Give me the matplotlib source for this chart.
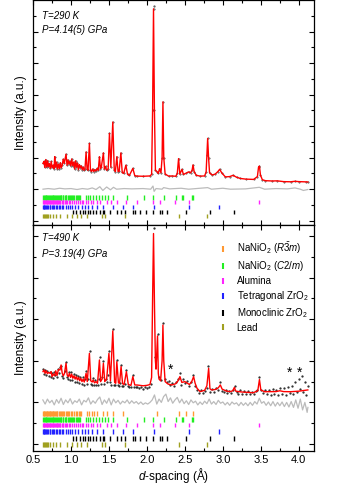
import matplotlib
matplotlib.use('Agg')
import matplotlib.pyplot as plt
from matplotlib.ticker import MultipleLocator
from matplotlib.lines import Line2D

plt.rcParams['font.family'] = ['Liberation Sans', 'DejaVu Sans']
plt.rcParams['mathtext.fontset'] = 'custom'
plt.rcParams['mathtext.rm'] = 'Liberation Sans'
plt.rcParams['mathtext.it'] = 'Liberation Sans:italic'

# ---- top panel: T=290 K ----
d_fit_top = [0.632, 0.645, 0.655, 0.668, 0.680, 0.692, 0.703, 0.715, 0.727, 0.740, 0.752, 0.765,
             0.778, 0.786, 0.797, 0.810, 0.822, 0.835, 0.848, 0.860, 0.872, 0.885, 0.898, 0.912,
             0.935, 0.948, 0.960, 0.972, 0.985, 0.997, 1.010, 1.022, 1.035, 1.048, 1.060, 1.072,
             1.085, 1.097, 1.110, 1.122, 1.135, 1.148, 1.160, 1.173, 1.185, 1.199, 1.212, 1.225,
             1.243, 1.256, 1.270, 1.285, 1.300, 1.315, 1.330, 1.345, 1.360, 1.375, 1.388, 1.400,
             1.427, 1.440, 1.455, 1.470, 1.490, 1.507, 1.525, 1.551, 1.570, 1.585, 1.604, 1.620,
             1.635, 1.657, 1.675, 1.695, 1.723, 1.745, 1.770, 1.815, 1.840, 1.872, 1.950, 2.040,
             2.062, 2.075, 2.087, 2.099, 2.112, 2.132, 2.150, 2.166, 2.185, 2.200, 2.211, 2.222,
             2.240, 2.285, 2.330, 2.380, 2.400, 2.417, 2.433, 2.462, 2.480, 2.510, 2.549, 2.575,
             2.595, 2.607, 2.622, 2.650, 2.703, 2.760, 2.780, 2.790, 2.800, 2.812, 2.825, 2.860,
             2.900, 2.935, 2.958, 2.985, 3.033, 3.090, 3.135, 3.180, 3.231, 3.300, 3.406, 3.455,
             3.470, 3.482, 3.495, 3.520, 3.561, 3.650, 3.715, 3.800, 3.891, 3.950, 4.000, 4.089,
             4.119]
I_fit_top = [1820, 1880, 1690, 1940, 1700, 1900, 1720, 1810, 1660, 1880, 1690, 1760,
             1650, 2030, 1700, 1860, 1640, 1790, 1650, 1840, 1680, 1770, 1950, 1820,
             2110, 1760, 1930, 1800, 1880, 1740, 1960, 1750, 1860, 1640, 1900, 1700,
             1830, 1620, 1780, 1680, 1740, 1620, 1700, 1600, 1650, 2180, 1640, 1600,
             2450, 1620, 1560, 1640, 1560, 1620, 1580, 1660, 1600, 2030, 1650, 1700,
             2150, 1640, 1720, 1600, 1650, 2770, 1700, 3130, 1620, 1560, 2030, 1560,
             1570, 2150, 1530, 1500, 1760, 1470, 1440, 1660, 1430, 1415, 1410, 1420,
             1470, 3500, 6720, 3500, 1600, 1560, 1500, 1650, 1520, 2000, 3770, 2000,
             1480, 1415, 1420, 1410, 1500, 1970, 1480, 1630, 1470, 1500, 1550, 1520,
             1600, 1770, 1560, 1440, 1415, 1420, 1550, 2100, 2610, 2000, 1520, 1450,
             1480, 1560, 1630, 1520, 1390, 1400, 1440, 1380, 1340, 1320, 1310, 1400,
             1700, 1730, 1450, 1300, 1270, 1260, 1265, 1240, 1235, 1250, 1240, 1235,
             1230]

d_diff_top = [0.632, 0.70, 0.78, 0.85, 0.92, 1.00, 1.08, 1.15, 1.22, 1.28, 1.33, 1.38, 1.42,
              1.47, 1.52, 1.56, 1.60, 1.70, 1.80, 1.95, 2.05, 2.08, 2.095, 2.12, 2.20, 2.22,
              2.30, 2.45, 2.55, 2.65, 2.80, 2.85, 3.00, 3.10, 3.30, 3.48, 3.55, 3.70, 3.85,
              3.95, 4.02, 4.06, 4.119]
I_diff_top = [1000, 1020, 1000, 1030, 1010, 1020, 990, 1020, 1000, 1040, 990, 1080, 960,
              1070, 980, 1060, 1000, 1020, 1010, 1020, 1000, 1100, 930, 1020, 1000, 1050,
              1010, 1030, 1000, 1020, 1050, 1000, 1030, 1000, 1010, 1060, 1000, 1020, 1010,
              1040, 1000, 960, 990]

# ---- bottom panel: T=490 K ----
d_fit_bot = [0.632, 0.645, 0.660, 0.675, 0.690, 0.705, 0.724, 0.740, 0.751, 0.770, 0.786, 0.800,
             0.817, 0.835, 0.856, 0.870, 0.885, 0.900, 0.915, 0.935, 0.950, 0.965, 0.980, 0.995,
             1.010, 1.025, 1.040, 1.055, 1.070, 1.085, 1.100, 1.115, 1.130, 1.145, 1.160, 1.175,
             1.199, 1.215, 1.243, 1.260, 1.280, 1.292, 1.310, 1.330, 1.350, 1.375, 1.390, 1.410,
             1.427, 1.445, 1.470, 1.500, 1.520, 1.551, 1.575, 1.590, 1.604, 1.625, 1.640, 1.660,
             1.680, 1.700, 1.730, 1.755, 1.790, 1.815, 1.840, 1.872, 1.950, 2.000, 2.040, 2.062,
             2.075, 2.087, 2.100, 2.112, 2.120, 2.140, 2.150, 2.160, 2.180, 2.200, 2.211, 2.222,
             2.240, 2.280, 2.330, 2.380, 2.410, 2.435, 2.460, 2.500, 2.560, 2.590, 2.615, 2.635,
             2.660, 2.700, 2.760, 2.790, 2.813, 2.830, 2.850, 2.900, 2.940, 2.967, 2.990, 3.050,
             3.100, 3.130, 3.152, 3.170, 3.250, 3.400, 3.460, 3.482, 3.500, 3.550, 3.700, 3.750,
             3.800, 3.891, 4.000, 4.119]
I_fit_bot = [1740, 1780, 1700, 1760, 1690, 1720, 1700, 1740, 1620, 1680, 1640, 1760,
             1650, 1790, 1780, 1900, 1700, 1640, 1700, 1940, 1660, 1620, 1700, 1600,
             1680, 1580, 1640, 1560, 1620, 1540, 1600, 1520, 1580, 1500, 1560, 1490,
             1700, 1500, 2180, 1520, 1490, 1540, 1470, 1500, 1460, 2020, 1500, 1560,
             1940, 1500, 1560, 2180, 1520, 2720, 1480, 1460, 1980, 1470, 1460, 1860,
             1450, 1430, 1740, 1430, 1410, 1620, 1420, 1418, 1400, 1410, 1430, 1600,
             3500, 5060, 3300, 2000, 1800, 2600, 1700, 1560, 1520, 2000, 2860, 2000,
             1500, 1440, 1420, 1450, 1520, 1620, 1480, 1500, 1430, 1500, 1620, 1460,
             1340, 1260, 1290, 1400, 1820, 1330, 1300, 1310, 1350, 1420, 1320, 1270,
             1260, 1280, 1360, 1270, 1250, 1233, 1280, 1550, 1300, 1257, 1260, 1280,
             1260, 1257, 1270, 1300]

d_obs_bot = [0.63, 0.645, 0.66, 0.675, 0.69, 0.705, 0.72, 0.735, 0.75, 0.765, 0.78, 0.795, 0.81,
             0.825, 0.84, 0.855, 0.87, 0.885, 0.90, 0.915, 0.93, 0.945, 0.96, 0.975, 0.99, 1.005,
             1.02, 1.035, 1.05, 1.065, 1.08, 1.095, 1.11, 1.125, 1.14, 1.155, 1.17, 1.185, 1.20,
             1.215, 1.23, 1.245, 1.26, 1.275, 1.29, 1.305, 1.32, 1.335, 1.35, 1.365, 1.38, 1.395,
             1.41, 1.425, 1.44, 1.455, 1.47, 1.485, 1.50, 1.515, 1.53, 1.55, 1.565, 1.58, 1.60,
             1.615, 1.63, 1.645, 1.66, 1.675, 1.69, 1.71, 1.73, 1.75, 1.77, 1.79, 1.815, 1.83,
             1.85, 1.875, 1.90, 1.925, 1.95, 1.975, 2.00, 2.025, 2.05, 2.087, 2.11, 2.14, 2.16,
             2.185, 2.21, 2.235, 2.26, 2.285, 2.31, 2.335, 2.36, 2.385, 2.41, 2.435, 2.455, 2.48,
             2.505, 2.53, 2.555, 2.58, 2.61, 2.635, 2.66, 2.685, 2.71, 2.735, 2.76, 2.785, 2.81,
             2.835, 2.86, 2.885, 2.91, 2.935, 2.96, 2.985, 3.01, 3.035, 3.06, 3.085, 3.11, 3.135,
             3.155, 3.18, 3.205, 3.23, 3.255, 3.28, 3.305, 3.33, 3.355, 3.38, 3.405, 3.43, 3.455,
             3.48, 3.505, 3.53, 3.555, 3.58, 3.605, 3.63, 3.655, 3.68, 3.705, 3.73, 3.755, 3.78,
             3.805, 3.83, 3.855, 3.88, 3.905, 3.93, 3.955, 3.98, 4.005, 4.02, 4.04, 4.06, 4.08,
             4.10, 4.115]
I_obs_bot = [1800, 1690, 1780, 1650, 1760, 1640, 1740, 1600, 1700, 1580, 1720, 1660, 1600,
             1800, 1700, 1850, 1880, 1630, 1580, 1760, 1980, 1600, 1560, 1740, 1550, 1720,
             1530, 1680, 1500, 1660, 1480, 1640, 1460, 1620, 1450, 1600, 1430, 1560, 1760,
             1450, 1560, 2230, 1450, 1430, 1580, 1420, 1530, 1430, 1420, 1560, 2080, 1440,
             1600, 1990, 1440, 1560, 1500, 1650, 2230, 1480, 1430, 2760, 1430, 1410, 2010,
             1420, 1400, 1460, 1900, 1400, 1390, 1450, 1780, 1390, 1370, 1380, 1660, 1380,
             1360, 1380, 1340, 1370, 1330, 1360, 1350, 1380, 1440, 5190, 2100, 2640, 1620,
             1540, 2900, 1560, 1480, 1520, 1420, 1470, 1400, 1480, 1560, 1700, 1430, 1560,
             1460, 1520, 1390, 1480, 1660, 1400, 1300, 1230, 1290, 1220, 1280, 1340, 1880,
             1260, 1320, 1240, 1350, 1300, 1480, 1280, 1240, 1300, 1220, 1280, 1230, 1290,
             1400, 1240, 1200, 1290, 1210, 1270, 1200, 1280, 1210, 1260, 1200, 1280, 1300,
             1620, 1300, 1220, 1290, 1200, 1300, 1190, 1320, 1210, 1300, 1180, 1340, 1200,
             1350, 1180, 1360, 1220, 1400, 1200, 1480, 1260, 1560, 1320, 1640, 1250, 1480,
             1180, 1400]

d_diff_bot = [0.63, 0.66, 0.69, 0.72, 0.75, 0.78, 0.81, 0.84, 0.87, 0.90, 0.93, 0.96, 0.99,
              1.02, 1.05, 1.08, 1.11, 1.14, 1.17, 1.20, 1.23, 1.26, 1.29, 1.32, 1.35, 1.38,
              1.41, 1.44, 1.47, 1.50, 1.53, 1.56, 1.59, 1.62, 1.65, 1.68, 1.71, 1.74, 1.77,
              1.80, 1.83, 1.86, 1.89, 1.92, 1.95, 1.98, 2.01, 2.04, 2.07, 2.10, 2.13, 2.16,
              2.19, 2.22, 2.25, 2.28, 2.31, 2.34, 2.37, 2.40, 2.43, 2.46, 2.49, 2.52, 2.55,
              2.58, 2.61, 2.64, 2.67, 2.70, 2.73, 2.76, 2.79, 2.82, 2.85, 2.88, 2.91, 2.94,
              2.97, 3.00, 3.03, 3.06, 3.09, 3.12, 3.15, 3.18, 3.21, 3.24, 3.27, 3.30, 3.33,
              3.36, 3.39, 3.42, 3.45, 3.48, 3.51, 3.54, 3.57, 3.60, 3.63, 3.66, 3.69, 3.72,
              3.75, 3.78, 3.81, 3.84, 3.87, 3.90, 3.93, 3.96, 3.99, 4.02, 4.05, 4.08, 4.11,
              4.12]
I_diff_bot = [1060, 960, 1080, 990, 1050, 940, 1070, 980, 1100, 950, 1060, 990, 1090,
              960, 1040, 1000, 1080, 940, 1050, 1010, 1110, 960, 1040, 980, 1070, 1130,
              950, 1060, 980, 1100, 940, 1080, 990, 1050, 960, 1030, 990, 1060, 970,
              1040, 980, 1020, 960, 1010, 950, 990, 960, 1000, 1060, 1180, 960, 1080,
              1000, 1140, 1200, 1020, 1110, 980, 1060, 1120, 990, 1080, 970, 1040, 950,
              1060, 990, 1030, 940, 1010, 950, 1030, 970, 1080, 960, 1020, 950, 1050,
              980, 1010, 940, 1000, 930, 1010, 960, 990, 920, 1000, 930, 990, 920,
              1000, 930, 1020, 960, 1100, 980, 1020, 930, 1010, 920, 1020, 910, 1000,
              920, 1010, 900, 1000, 890, 1020, 880, 1060, 860, 1080, 820, 1000, 760,
              880]

# ---- reflection positions (d-spacing) ----
refl_r3m = [0.63, 0.64, 0.65, 0.66, 0.67, 0.68, 0.69, 0.70, 0.71, 0.72, 0.73, 0.74, 0.75, 0.76,
            0.77, 0.78, 0.79, 0.80, 0.81, 0.82, 0.84, 0.85, 0.87, 0.88, 0.90, 0.91, 0.93, 0.95,
            0.96, 0.98, 1.00, 1.02, 1.04, 1.06, 1.08, 1.10, 1.12, 1.13, 1.216, 1.243, 1.274,
            1.309, 1.340, 1.420, 1.480, 1.559, 1.683, 2.132, 2.417, 2.515, 2.602]
refl_c2m = [0.63, 0.645, 0.655, 0.668, 0.676, 0.69, 0.70, 0.712, 0.725, 0.733, 0.745, 0.758,
            0.77, 0.78, 0.79, 0.805, 0.815, 0.83, 0.84, 0.852, 0.866, 0.875, 0.89, 0.90, 0.915,
            0.93, 0.94, 0.955, 0.97, 0.985, 1.0, 1.012, 1.03, 1.045, 1.06, 1.075, 1.09, 1.10,
            1.12, 1.199, 1.222, 1.252, 1.288, 1.327, 1.375, 1.406, 1.450, 1.493, 1.551, 1.736,
            1.964, 2.079, 2.219, 2.387, 2.466, 2.479, 2.598, 2.611]
refl_alumina = [0.63, 0.64, 0.65, 0.66, 0.67, 0.68, 0.69, 0.70, 0.71, 0.72, 0.73, 0.74, 0.75,
                0.76, 0.77, 0.78, 0.79, 0.80, 0.81, 0.82, 0.83, 0.84, 0.85, 0.86, 0.88, 0.89,
                0.90, 0.92, 0.93, 0.95, 0.97, 0.99, 1.01, 1.04, 1.06, 1.09, 1.12, 1.14, 1.164,
                1.199, 1.230, 1.261, 1.288, 1.340, 1.384, 1.480, 1.525, 1.612, 1.727, 1.868,
                2.079, 2.166, 2.373, 2.549, 3.472]
refl_tetra = [0.63, 0.64, 0.65, 0.66, 0.67, 0.69, 0.70, 0.72, 0.73, 0.75, 0.77, 0.78, 0.80,
              0.82, 0.84, 0.86, 0.88, 0.90, 0.93, 0.96, 0.99, 1.01, 1.05, 1.098, 1.142, 1.186,
              1.230, 1.274, 1.340, 1.427, 1.559, 1.691, 1.823, 2.096, 2.558, 2.954]
refl_mono = [1.024, 1.067, 1.120, 1.160, 1.186, 1.230, 1.252, 1.288, 1.331, 1.380, 1.420,
             1.441, 1.516, 1.604, 1.657, 1.714, 1.815, 1.846, 1.910, 1.991, 2.084, 2.176,
             2.198, 2.264, 2.515, 2.835, 3.150]
refl_lead = [0.636, 0.647, 0.658, 0.670, 0.681, 0.702, 0.724, 0.768, 0.803, 0.856, 0.945,
             1.011, 1.084, 1.129, 1.216, 1.406, 1.450, 1.714, 2.417, 2.792]

phase_labels = ['NaNiO$_2$ ($R\\bar{3}m$)', 'NaNiO$_2$ ($C2/m$)', 'Alumina',
                'Tetragonal ZrO$_2$', 'Monoclinic ZrO$_2$', 'Lead']
phase_colors = ['#ff9933', '#22ee22', '#ff22ff', '#2222ff', '#000000', '#a0a020']

fig = plt.figure(figsize=(3.39, 4.84), dpi=100)
ax1 = fig.add_axes([0.0973, 0.5351, 0.8289, 0.4639])
ax2 = fig.add_axes([0.0973, 0.0682, 0.8289, 0.4669])

# top
ax1.plot(d_fit_top, I_fit_top, '.', color='#333333', ms=0.8)
ax1.plot(d_fit_top, I_fit_top, color='red', lw=1.0)
ax1.plot(d_diff_top, I_diff_top, color='#bbbbbb', lw=0.9)
ax1.plot([2.087], [6820], '.', color='#555555', ms=1.2)
top_rows = [(670, 813), (520, 655), (370, 505), (225, 355), (75, 210)]
top_refl = [refl_c2m, refl_alumina, refl_tetra, refl_mono, refl_lead]
for (y0, y1), refl, col in zip(top_rows, top_refl, phase_colors[1:]):
    ax1.vlines(refl, y0, y1, color=col, lw=1.0)
ax1.set_ylim(-136, 6985)
ax1.text(0.031, 0.933, 'T=290 K', transform=ax1.transAxes, fontsize=7, style='italic', va='center')
ax1.text(0.031, 0.870, 'P=4.14(5) GPa', transform=ax1.transAxes, fontsize=7, style='italic', va='center')

# bottom
ax2.plot(d_obs_bot, I_obs_bot, '.', color='#222222', ms=1.2)
ax2.plot(d_fit_bot, I_fit_bot, color='red', lw=1.0)
ax2.plot(d_diff_bot, I_diff_bot, color='#bbbbbb', lw=0.9)
bot_rows = [(680, 800), (536, 656), (401, 512), (233, 353), (79, 192), (-65, 55)]
bot_refl = [refl_r3m, refl_c2m, refl_alumina, refl_tetra, refl_mono, refl_lead]
for (y0, y1), refl, col in zip(bot_rows, bot_refl, phase_colors):
    ax2.vlines(refl, y0, y1, color=col, lw=1.0)
ax2.set_ylim(-168, 5265)
ax2.text(0.031, 0.942, 'T=490 K', transform=ax2.transAxes, fontsize=7, style='italic', va='center')
ax2.text(0.031, 0.872, 'P=3.19(4) GPa', transform=ax2.transAxes, fontsize=7, style='italic', va='center')
for dx, iy in [(2.317, 1779), (3.877, 1714), (4.013, 1714)]:
    ax2.text(dx, iy, '*', fontsize=10, ha='center', va='center')

handles = [Line2D([], [], ls='none', marker='|', ms=5, mew=1.5, color=c) for c in phase_colors]
ax2.legend(handles, phase_labels, loc='upper left', bbox_to_anchor=(0.635, 0.962), frameon=False,
           fontsize=7, handlelength=1.0, handletextpad=0.9, labelspacing=0.3, borderpad=0.2)

for ax in (ax1, ax2):
    ax.set_xlim(0.5, 4.2)
    ax.xaxis.set_major_locator(MultipleLocator(0.5))
    ax.xaxis.set_minor_locator(MultipleLocator(0.25))
    ax.yaxis.set_major_locator(MultipleLocator(1000))
    ax.yaxis.set_minor_locator(MultipleLocator(500))
    ax.tick_params(which='both', direction='in', top=True, right=True, labelleft=False)
    ax.tick_params(which='major', length=3.5, width=0.8)
    ax.tick_params(which='minor', length=2, width=0.8)
    ax.set_ylabel('Intensity (a.u.)', fontsize=8.5, labelpad=4)
    for s in ax.spines.values():
        s.set_linewidth(0.9)

ax1.tick_params(labelbottom=False)
ax2.tick_params(labelsize=8, pad=3)
ax2.set_xlabel('$d$-spacing (Å)', fontsize=8.5, labelpad=0.5)

fig.savefig('out.png', dpi=100)
